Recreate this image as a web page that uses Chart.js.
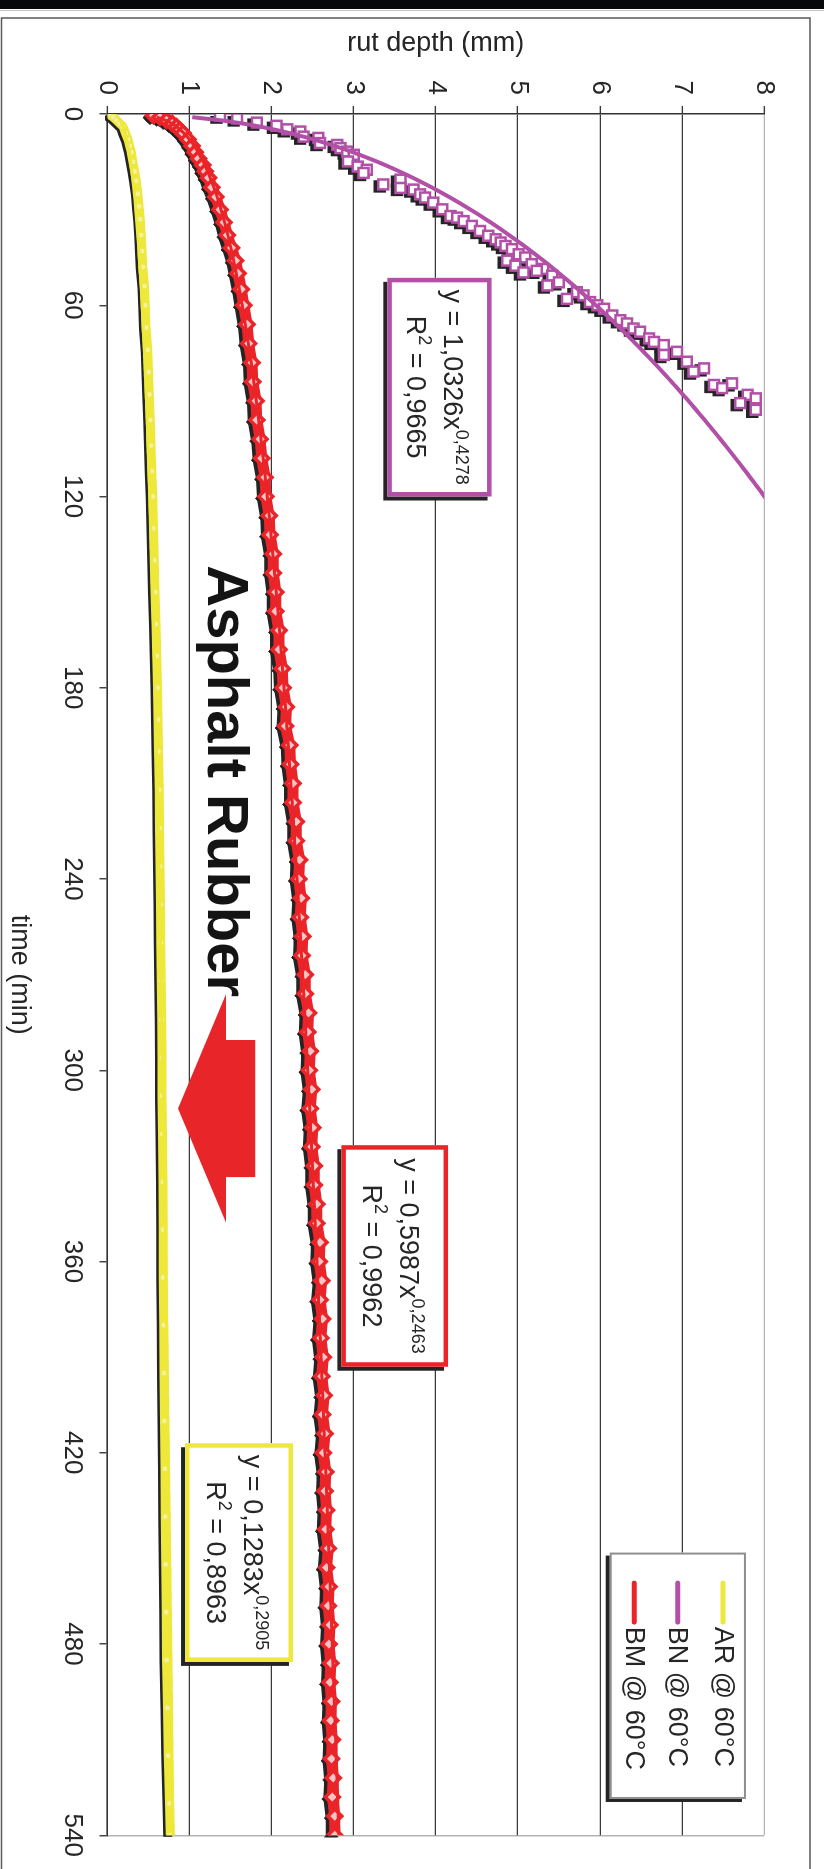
<!DOCTYPE html>
<html>
<head>
<meta charset="utf-8">
<script src="https://cdn.jsdelivr.net/npm/chart.js@4.4.1/dist/chart.umd.min.js"></script>
<style>
  html, body { margin: 0; padding: 0; background: #fff; overflow: hidden; width: 824px; height: 1869px; }
  /* the chart is laid out landscape and turned a quarter turn clockwise */
  #wrap { position: absolute; left: 0; top: 0; width: 1869px; height: 824px;
          transform-origin: 0 0; transform: translate(824px, 0) rotate(90deg); }
  canvas { display: block; }
</style>
</head>
<body>
<div id="wrap"><canvas id="c" width="1869" height="824"></canvas></div>
<script>
// ---- series names and colours ----
const seriesNames = ['AR @ 60°C', 'BN @ 60°C', 'BM @ 60°C'];
const seriesColors = ['#EDE83A', '#B24FA7', '#EA2428'];

// ---- axis ticks ----
const timeTicks = [0, 60, 120, 180, 240, 300, 360, 420, 480, 540];
const depthTicks = [0, 1, 2, 3, 4, 5, 6, 7, 8];

// ---- AR @ 60°C : time (min), rut depth (mm) ----
const arTime = [0.5, 1, 2, 3, 4, 6, 8, 10, 12, 15, 18, 21, 25, 29, 33, 38, 43, 48, 54, 60,
  67, 74, 81, 88, 96, 104, 112, 120, 130, 140, 150, 160, 170, 180, 190, 200, 212, 224, 236, 248,
  260, 272, 284, 296, 308, 320, 335, 350, 365, 380, 395, 410, 425, 440, 455, 470, 485, 500, 515, 530, 540];
const arDepth = [0.04, 0.07, 0.11, 0.15, 0.19, 0.22, 0.25, 0.27, 0.29, 0.31, 0.33, 0.35, 0.37, 0.385, 0.40, 0.41, 0.42, 0.43, 0.45, 0.46,
  0.47, 0.49, 0.50, 0.51, 0.52, 0.53, 0.54, 0.55, 0.56, 0.57, 0.58, 0.59, 0.60, 0.61, 0.615, 0.62, 0.63, 0.635, 0.64, 0.645,
  0.65, 0.655, 0.66, 0.665, 0.665, 0.67, 0.675, 0.68, 0.68, 0.685, 0.69, 0.695, 0.70, 0.705, 0.71, 0.715, 0.72, 0.73, 0.74, 0.755, 0.765];

// ---- BN @ 60°C ----
const bnTime = [0.5, 1.4, 2.7, 3.7, 4.8, 5.5, 7.1, 7.5, 9.1, 9.7, 10.7, 11.8, 12.8, 14.9, 16.5, 17.5, 18.5, 20.6, 22.1, 23.2,
  23.7, 25.2, 26.2, 27.8, 29.9, 32.0, 32.5, 33.6, 35.1, 36.7, 38.2, 39.3, 40.3, 41.4, 42.4, 44.0, 45.0, 46.0, 47.1, 47.6,
  48.6, 49.2, 49.7, 50.7, 52.8, 53.8, 55.9, 56.9, 58.0, 59.0, 60.0, 61.1, 63.2, 64.7, 65.7, 67.3, 68.3, 70.4, 71.5, 72.5,
  74.6, 75.6, 77.7, 79.8, 80.8, 84.5, 85.0, 86.0, 88.1, 89.2, 90.7, 92.8];
const bnDepth = [1.37, 1.58, 1.82, 2.06, 2.19, 2.35, 2.39, 2.57, 2.59, 2.80, 2.84, 2.92, 3.00, 2.93, 3.05, 3.16, 3.12, 3.57, 3.36, 3.57,
  3.73, 3.81, 3.87, 3.97, 4.08, 4.18, 4.26, 4.34, 4.44, 4.54, 4.64, 4.73, 4.79, 4.85, 4.93, 5.01, 5.09, 4.87, 5.17, 4.97,
  5.31, 5.23, 5.07, 5.42, 5.50, 5.36, 5.72, 5.80, 5.60, 5.88, 5.97, 6.05, 6.15, 6.25, 6.33, 6.41, 6.49, 6.60, 6.66, 6.78,
  6.94, 6.78, 7.06, 7.27, 7.14, 7.61, 7.39, 7.49, 7.80, 7.90, 7.71, 7.90];

// ---- BM @ 60°C ----
const bmTime = [0.5, 1, 2, 3, 4, 5, 6, 8, 10, 12, 14, 16, 18, 20, 23, 26, 30, 34, 38, 42,
  46, 50, 55, 60, 66, 72, 78, 84, 90, 96, 102, 108, 114, 120, 126, 132, 138, 144, 150, 156,
  162, 168, 174, 180, 186, 192, 198, 204, 210, 216, 222, 228, 234, 240, 246, 252, 258, 264, 270, 276,
  282, 288, 294, 300, 306, 312, 318, 324, 330, 336, 342, 348, 354, 360, 366, 372, 378, 384, 390, 396,
  402, 408, 414, 420, 426, 432, 438, 444, 450, 456, 462, 468, 474, 480, 486, 492, 498, 504, 510, 516,
  522, 528, 534, 540];
const bmDepth = [0.56, 0.64, 0.72, 0.79, 0.84, 0.88, 0.92, 0.98, 1.03, 1.07, 1.11, 1.16, 1.19, 1.23, 1.27, 1.32, 1.37, 1.42, 1.46, 1.51,
  1.56, 1.59, 1.63, 1.66, 1.70, 1.72, 1.76, 1.77, 1.81, 1.82, 1.86, 1.88, 1.92, 1.93, 1.97, 1.98, 2.02, 2.02, 2.05, 2.05,
  2.09, 2.09, 2.13, 2.14, 2.18, 2.17, 2.22, 2.23, 2.26, 2.26, 2.30, 2.30, 2.34, 2.33, 2.36, 2.35, 2.38, 2.37, 2.41, 2.41,
  2.45, 2.44, 2.47, 2.46, 2.49, 2.47, 2.50, 2.49, 2.52, 2.52, 2.55, 2.55, 2.59, 2.58, 2.61, 2.59, 2.62, 2.60, 2.63, 2.61,
  2.64, 2.62, 2.65, 2.63, 2.66, 2.65, 2.67, 2.66, 2.69, 2.67, 2.70, 2.69, 2.71, 2.70, 2.72, 2.71, 2.73, 2.72, 2.74, 2.73,
  2.75, 2.74, 2.77, 2.77];

// ---- power trendlines y = a·x^b (order: AR, BN, BM) ----
const trendA = [0.1283, 1.0326, 0.5987];
const trendB = [0.2905, 0.4278, 0.2463];
const trendR2 = [0.8963, 0.9665, 0.9962];

const FONT = '"Liberation Sans", Arial, Helvetica, sans-serif';
const INK = '#262626';
const SHADOW = '#242424';

const pts = (ts, ds) => ts.map((t, i) => ({ x: t, y: ds[i] }));
const trendPts = k => {
  const out = [];
  for (let t = 1; t <= 540; t += 1) out.push({ x: t, y: trendA[k] * Math.pow(t, trendB[k]) });
  return out;
};
const comma = (v, n) => v.toFixed(n).replace('.', ',');

// dark copies of each series, nudged down-right when drawn, give the drop shadow
const datasets = [
  { label: 'shadow-AR', data: pts(arTime, arDepth), showLine: true, borderColor: SHADOW, borderWidth: 9,
    borderCapStyle: 'round', borderJoinStyle: 'round', pointRadius: 0, order: 30, shift: [1.5, 2.5] },
  { label: 'shadow-BM', data: pts(bmTime, bmDepth), showLine: true, borderColor: SHADOW, borderWidth: 11,
    borderCapStyle: 'round', borderJoinStyle: 'round', pointStyle: 'rectRot', pointRadius: 7,
    pointBackgroundColor: SHADOW, pointBorderColor: SHADOW, pointBorderWidth: 1, order: 30, shift: [2, 3.5] },
  { label: 'shadow-BN', data: pts(bnTime, bnDepth), showLine: false, pointStyle: 'rect', pointRadius: 7,
    pointBackgroundColor: SHADOW, pointBorderColor: SHADOW, pointBorderWidth: 2.5, order: 30, shift: [2, 3.5] },

  { label: seriesNames[0], data: pts(arTime, arDepth), showLine: true, borderColor: seriesColors[0], borderWidth: 9,
    borderCapStyle: 'round', borderJoinStyle: 'round', pointRadius: 3, pointBackgroundColor: '#f5f29c',
    pointBorderColor: seriesColors[0], pointBorderWidth: 1, order: 20 },
  { label: seriesNames[2], data: pts(bmTime, bmDepth), showLine: true, borderColor: seriesColors[2], borderWidth: 11,
    borderCapStyle: 'round', borderJoinStyle: 'round', pointStyle: 'rectRot', pointRadius: 7,
    pointBackgroundColor: '#f8c4c4', pointBorderColor: seriesColors[2], pointBorderWidth: 3.5, order: 20 },
  { label: seriesNames[1], data: pts(bnTime, bnDepth), showLine: false, pointStyle: 'rect', pointRadius: 7,
    pointBackgroundColor: '#ffffff', pointBorderColor: seriesColors[1], pointBorderWidth: 2.5, order: 20 },

  { label: 'trend-AR', data: trendPts(0), showLine: true, borderColor: seriesColors[0], borderWidth: 3, pointRadius: 0, order: 10 },
  { label: 'trend-BM', data: trendPts(2), showLine: true, borderColor: seriesColors[2], borderWidth: 3, pointRadius: 0, order: 10 },
  { label: 'trend-BN', data: trendPts(1), showLine: true, borderColor: seriesColors[1], borderWidth: 4, pointRadius: 0, order: 10 }
];

// outer frame of the chart sheet
const framePlugin = {
  id: 'frame',
  beforeDraw(chart) {
    const { ctx, width: W, height: H } = chart;
    ctx.save();
    ctx.fillStyle = '#ffffff';
    ctx.fillRect(0, 0, W, H);
    ctx.fillStyle = '#07080a';
    ctx.fillRect(0, 0, 9, H);
    ctx.strokeStyle = '#c4c4c4';
    ctx.lineWidth = 1;
    ctx.beginPath(); ctx.moveTo(10.5, 0); ctx.lineTo(10.5, H); ctx.stroke();
    ctx.strokeStyle = '#5a5a5a';
    ctx.lineWidth = 1.5;
    ctx.beginPath();
    ctx.moveTo(W + 5, 14); ctx.lineTo(18, 14); ctx.lineTo(18, H - 1.5); ctx.lineTo(W + 5, H - 1.5);
    ctx.stroke();
    ctx.restore();
  }
};

// shifts the shadow copies a few pixels while they are drawn
const shiftPlugin = {
  id: 'shift',
  beforeDatasetDraw(chart, args) {
    const s = chart.data.datasets[args.index].shift;
    if (s) {
      chart.ctx.save();
      chart.ctx.translate(s[0], s[1]);
    }
  },
  afterDatasetDraw(chart, args) {
    if (chart.data.datasets[args.index].shift) chart.ctx.restore();
  }
};

// trendline captions, the "Asphalt Rubber" callout and the legend
const labelBoxes = [
  { k: 1, t0: 51.4, t1: 120.0, d0: 4.68, d1: 3.41 },
  { k: 2, t0: 323.5, t1: 393.0, d0: 4.15, d1: 2.85 },
  { k: 0, t0: 417.0, t1: 485.6, d0: 2.26, d1: 0.945 }
];
const callout = { text: 'Asphalt Rubber', t: 209.3, d: 1.22 };
const arrow = { tipT: 312.0, tipD: 0.86, headT0: 276.1, headT1: 347.8, baseD: 1.445, shaftT0: 290.5, shaftT1: 333.5, tailD: 1.80 };
const legendBox = { t0: 451.3, t1: 528.6, d0: 7.78, d1: 6.12, rows: [7.50, 6.95, 6.42], lineT0: 460.9, lineT1: 473.1, textT: 474.6 };

function shadowedBox(ctx, x0, y0, x1, y1, stroke, lw, dx, dy) {
  ctx.fillStyle = SHADOW;
  ctx.fillRect(x0 + dx, y0 + dy, x1 - x0, y1 - y0);
  ctx.fillStyle = '#ffffff';
  ctx.fillRect(x0, y0, x1 - x0, y1 - y0);
  ctx.strokeStyle = stroke;
  ctx.lineWidth = lw;
  ctx.strokeRect(x0 + lw / 2, y0 + lw / 2, x1 - x0 - lw, y1 - y0 - lw);
}

function supLine(ctx, parts, cx, baseline) {
  // parts: [text, isSuperscript]
  const big = '27px ' + FONT, small = '18px ' + FONT;
  let total = 0;
  parts.forEach(p => { ctx.font = p[1] ? small : big; total += ctx.measureText(p[0]).width; });
  let x = cx - total / 2;
  parts.forEach(p => {
    ctx.font = p[1] ? small : big;
    ctx.fillText(p[0], x, p[1] ? baseline - 12 : baseline);
    x += ctx.measureText(p[0]).width;
  });
}

const decorPlugin = {
  id: 'decor',
  afterDatasetsDraw(chart) {
    const { ctx, scales: { x, y } } = chart;
    const X = v => x.getPixelForValue(v), Y = v => y.getPixelForValue(v);
    ctx.save();
    ctx.textBaseline = 'alphabetic';
    ctx.textAlign = 'left';

    labelBoxes.forEach(b => {
      const x0 = X(b.t0), x1 = X(b.t1), y0 = Y(b.d0), y1 = Y(b.d1);
      shadowedBox(ctx, x0, y0, x1, y1, seriesColors[b.k], 4.5, 4, 4);
      const cx = (x0 + x1) / 2, cy = (y0 + y1) / 2;
      ctx.fillStyle = INK;
      supLine(ctx, [['y = ' + comma(trendA[b.k], 4) + 'x', false], [comma(trendB[b.k], 4), true]], cx, cy - 5);
      supLine(ctx, [['R', false], ['2', true], [' = ' + comma(trendR2[b.k], 4), false]], cx, cy + 32);
    });

    // callout text
    ctx.fillStyle = '#141414';
    ctx.font = 'bold 58px ' + FONT;
    ctx.textAlign = 'center';
    ctx.fillText(callout.text, X(callout.t), Y(callout.d));
    ctx.textAlign = 'left';

    // block arrow pointing at the AR curve
    ctx.fillStyle = '#E8262A';
    ctx.beginPath();
    ctx.moveTo(X(arrow.tipT), Y(arrow.tipD));
    ctx.lineTo(X(arrow.headT0), Y(arrow.baseD));
    ctx.lineTo(X(arrow.shaftT0), Y(arrow.baseD));
    ctx.lineTo(X(arrow.shaftT0), Y(arrow.tailD));
    ctx.lineTo(X(arrow.shaftT1), Y(arrow.tailD));
    ctx.lineTo(X(arrow.shaftT1), Y(arrow.baseD));
    ctx.lineTo(X(arrow.headT1), Y(arrow.baseD));
    ctx.closePath();
    ctx.fill();

    // legend
    const L = legendBox;
    shadowedBox(ctx, X(L.t0), Y(L.d0), X(L.t1), Y(L.d1), '#8e8e8e', 2, 3, 4);
    ctx.font = '27px ' + FONT;
    ctx.textBaseline = 'middle';
    ctx.lineCap = 'round';
    seriesNames.forEach((name, i) => {
      const ry = Y(L.rows[i]);
      ctx.strokeStyle = seriesColors[i];
      ctx.lineWidth = 5;
      ctx.beginPath(); ctx.moveTo(X(L.lineT0), ry); ctx.lineTo(X(L.lineT1), ry); ctx.stroke();
      ctx.fillStyle = INK;
      ctx.fillText(name, X(L.textT), ry + 1);
    });
    ctx.restore();
  }
};

Chart.defaults.font.family = FONT;

new Chart(document.getElementById('c'), {
  type: 'scatter',
  data: { datasets },
  options: {
    responsive: false,
    animation: false,
    devicePixelRatio: 1,
    layout: { padding: { left: 18, right: 22, top: 60, bottom: 0 } },
    plugins: { legend: { display: false }, tooltip: { enabled: false } },
    scales: {
      x: {
        type: 'linear', min: 0, max: 540,
        afterBuildTicks: s => { s.ticks = timeTicks.map(v => ({ value: v })); },
        afterFit: s => { s.height = 107.5; },
        ticks: { font: { size: 26, family: FONT }, color: INK, padding: 12, maxRotation: 0, autoSkip: false },
        grid: {
          drawOnChartArea: true,
          color: c => (c.tick && c.tick.value === 540) ? '#b4b4b4' : 'rgba(0,0,0,0)',
          lineWidth: 1.5, tickColor: '#3a3a3a', tickLength: 8, tickWidth: 1.4
        },
        border: { color: '#333333', width: 1.5 },
        title: { display: true, text: 'time (min)', font: { size: 27, family: FONT }, color: INK, padding: { top: 0, bottom: 3 } }
      },
      y: {
        type: 'linear', min: 0, max: 8,
        afterBuildTicks: s => { s.ticks = depthTicks.map(v => ({ value: v })); },
        afterFit: s => { s.width = 96; },
        ticks: { font: { size: 26, family: FONT }, color: INK, padding: 11 },
        grid: {
          color: c => (c.tick && c.tick.value === 8) ? '#b4b4b4' : '#3a3a3a',
          lineWidth: 1.3, tickColor: '#3a3a3a', tickLength: 8, tickWidth: 1.4
        },
        border: { color: '#333333', width: 1.5 },
        title: { display: true, text: 'rut depth (mm)', font: { size: 27, family: FONT }, color: INK, padding: { top: 9, bottom: 0 } }
      }
    }
  },
  plugins: [framePlugin, shiftPlugin, decorPlugin]
});
</script>
</body>
</html>
